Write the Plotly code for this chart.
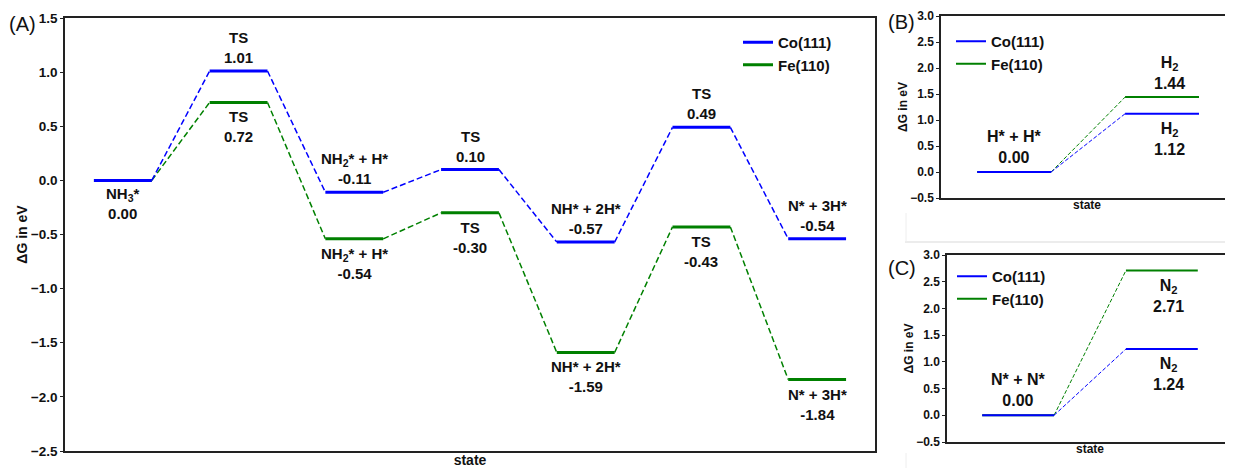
import plotly.graph_objects as go

# ---------------- data ----------------
A_states = ["NH<sub>3</sub>*", "TS", "NH<sub>2</sub>* + H*", "TS", "NH* + 2H*", "TS", "N* + 3H*"]
A_co = [0.00, 1.01, -0.11, 0.10, -0.57, 0.49, -0.54]
A_fe = [0.00, 0.72, -0.54, -0.30, -1.59, -0.43, -1.84]

B_states = ["H* + H*", "H<sub>2</sub>"]
B_co = [0.00, 1.12]
B_fe = [0.00, 1.44]

C_states = ["N* + N*", "N<sub>2</sub>"]
C_co = [0.00, 1.24]
C_fe = [0.00, 2.71]

series_names = ["Co(111)", "Fe(110)"]
y_ticks = [-2.5, -2.0, -1.5, -1.0, -0.5, 0.0, 0.5, 1.0, 1.5]
y_ticks_small = [-0.5, 0.0, 0.5, 1.0, 1.5, 2.0, 2.5, 3.0]

# label placement (style)
A_co_pos = ["below", "above", "above", "above", "above", "above", "above"]
A_fe_pos = [None, "below", "below", "below", "below", "below", "below"]
B_co_pos = ["above", "below"]
B_fe_pos = [None, "above"]
C_co_pos = ["above", "below"]
C_fe_pos = [None, "below"]

BLUE = "#0000ff"
GREEN = "#008000"
FONT = "Liberation Sans, Arial, sans-serif"

# the page body has an 8px margin: work in screen pixels and convert
OFF = 8
W, H = 1233 - OFF, 468 - OFF


def px(sx):
    return (sx - OFF) / W


def py(sy):
    return 1 - (sy - OFF) / H


fig = go.Figure()


def add_series(vals, color, name, xa, ya, lw, dlw, dash, legend, rank, show):
    xs_l, ys_l, xs_c, ys_c = [], [], [], []
    for i, v in enumerate(vals):
        xs_l += [2 * i, 2 * i + 1, None]
        ys_l += [v, v, None]
        if i + 1 < len(vals):
            xs_c += [2 * i + 1, 2 * i + 2, None]
            ys_c += [v, vals[i + 1], None]
    fig.add_trace(go.Scatter(x=xs_c, y=ys_c, mode="lines",
                             line=dict(color=color, width=dlw, dash=dash),
                             xaxis=xa, yaxis=ya, showlegend=False, hoverinfo="skip"))
    fig.add_trace(go.Scatter(x=xs_l, y=ys_l, mode="lines",
                             line=dict(color=color, width=lw),
                             name=name, xaxis=xa, yaxis=ya, legend=legend,
                             legendrank=rank, showlegend=show, hoverinfo="skip"))


# Fe first (drawn underneath), Co on top
add_series(A_fe, GREEN, series_names[1], "x", "y", 3, 1.5, "6px,3px", "legend", 2, True)
add_series(A_co, BLUE, series_names[0], "x", "y", 3, 1.5, "6px,3px", "legend", 1, True)
add_series(B_fe, GREEN, series_names[1], "x2", "y2", 2, 1, "4px,2px", "legend2", 2, True)
add_series(B_co, BLUE, series_names[0], "x2", "y2", 2, 1, "4px,2px", "legend2", 1, True)
add_series(C_fe, GREEN, series_names[1], "x3", "y3", 2, 1, "4px,2px", "legend3", 2, True)
add_series(C_co, BLUE, series_names[0], "x3", "y3", 2, 1, "4px,2px", "legend3", 1, True)

annotations = []


def add_labels(states, vals, pos, xref, yref, size, shift, xshift_last=0):
    for i, (s, v, p) in enumerate(zip(states, vals, pos)):
        if p is None:
            continue
        annotations.append(dict(
            x=2 * i + 0.5, y=v, xref=xref, yref=yref,
            text=f"<b>{s}<br>{v:.2f}</b>", showarrow=False,
            yanchor="bottom" if p == "above" else "top",
            yshift=shift if p == "above" else -shift,
            xshift=xshift_last if i == len(states) - 1 else 0,
            font=dict(family=FONT, size=size, color="#111"),
        ))


add_labels(A_states, A_co, A_co_pos, "x", "y", 15, 3)
add_labels(A_states, A_fe, A_fe_pos, "x", "y", 15, 4)
add_labels(B_states, B_co, B_co_pos, "x2", "y2", 16, 4, 7)
add_labels(B_states, B_fe, B_fe_pos, "x2", "y2", 16, 3, 7)
add_labels(C_states, C_co, C_co_pos, "x3", "y3", 16, 4, 7)
add_labels(C_states, C_fe, C_fe_pos, "x3", "y3", 16, 5, 7)

# panel letters
for txt, sx, sy in [("(A)", 7, 24), ("(B)", 886, 22), ("(C)", 886, 268)]:
    annotations.append(dict(x=px(sx), y=py(sy), xref="paper", yref="paper",
                            xanchor="left", yanchor="middle", text=txt, showarrow=False,
                            font=dict(family=FONT, size=20, color="#111")))

LINE = "#222"
tick_font_A = dict(family=FONT, size=13.5, color="#111", weight=700)
tick_font_s = dict(family=FONT, size=12, color="#111", weight=700)
title_font_A = dict(family=FONT, size=14, color="#111", weight=700)
title_font_s = dict(family=FONT, size=12, color="#111", weight=700)


def xax(domain, rng, anchor, tfont, standoff):
    return dict(domain=domain, range=rng, anchor=anchor, showticklabels=False, ticks="",
                showgrid=False, zeroline=False, showline=True, linecolor=LINE,
                linewidth=1.5, mirror=True, fixedrange=True, automargin=False,
                title=dict(text="<b>state</b>", font=tfont, standoff=standoff))


def yax(domain, rng, anchor, tickvals, tfont, tifont, standoff, mirror):
    return dict(domain=domain, range=rng, anchor=anchor, tickvals=tickvals,
                tickformat=".1f", ticks="outside", ticklen=3, tickwidth=1, tickcolor=LINE,
                tickfont=tfont, showgrid=False, zeroline=False, showline=True,
                linecolor=LINE, linewidth=1.5, mirror=mirror, fixedrange=True,
                automargin=False,
                title=dict(text="<b>ΔG in eV</b>", font=tifont, standoff=standoff))


legend_font = dict(family=FONT, size=15, color="#111", weight=700)

fig.update_layout(
    template="none",
    width=W, height=H,
    margin=dict(l=0, r=0, t=0, b=0, autoexpand=False),
    paper_bgcolor="white", plot_bgcolor="white",
    xaxis=xax([px(65), px(875)], [-0.5, 13.5], "y", title_font_A, 3),
    yaxis=yax([py(451), py(18)], [-2.5, 1.5], "x", y_ticks, tick_font_A, title_font_A, 0, True),
    xaxis2=xax([px(941), 1.0], [-0.49, 3.46], "y2", title_font_s, 2),
    yaxis2=yax([py(198), py(16)], [-0.5, 3.0], "x2", y_ticks_small, tick_font_s, title_font_s, 0, False),
    xaxis3=xax([px(947), 1.0], [-0.49, 3.49], "y3", title_font_s, 2),
    yaxis3=yax([py(442), py(255)], [-0.5, 3.0], "x3", y_ticks_small, tick_font_s, title_font_s, 0, False),
    legend=dict(x=px(738), y=py(26), xanchor="left", yanchor="top",
                bgcolor="rgba(0,0,0,0)", font=legend_font, tracegroupgap=0, itemwidth=30),
    legend2=dict(x=px(951), y=py(25), xanchor="left", yanchor="top",
                 bgcolor="rgba(0,0,0,0)", font=legend_font, tracegroupgap=0, itemwidth=30),
    legend3=dict(x=px(952), y=py(260), xanchor="left", yanchor="top",
                 bgcolor="rgba(0,0,0,0)", font=legend_font, tracegroupgap=0, itemwidth=30),
    annotations=annotations,
    shapes=[
        dict(type="line", xref="paper", yref="paper", x0=px(905), x1=1.0,
             y0=py(242), y1=py(242), line=dict(color="#d9d9d9", width=1)),
        dict(type="line", xref="paper", yref="paper", x0=px(906), x1=px(906),
             y0=py(213), y1=py(242), line=dict(color="#eeeeee", width=1)),
        dict(type="line", xref="paper", yref="paper", x0=px(906), x1=px(906),
             y0=py(453), y1=0, line=dict(color="#eeeeee", width=1)),
    ],
    showlegend=True,
)

fig.write_html("out.html")
